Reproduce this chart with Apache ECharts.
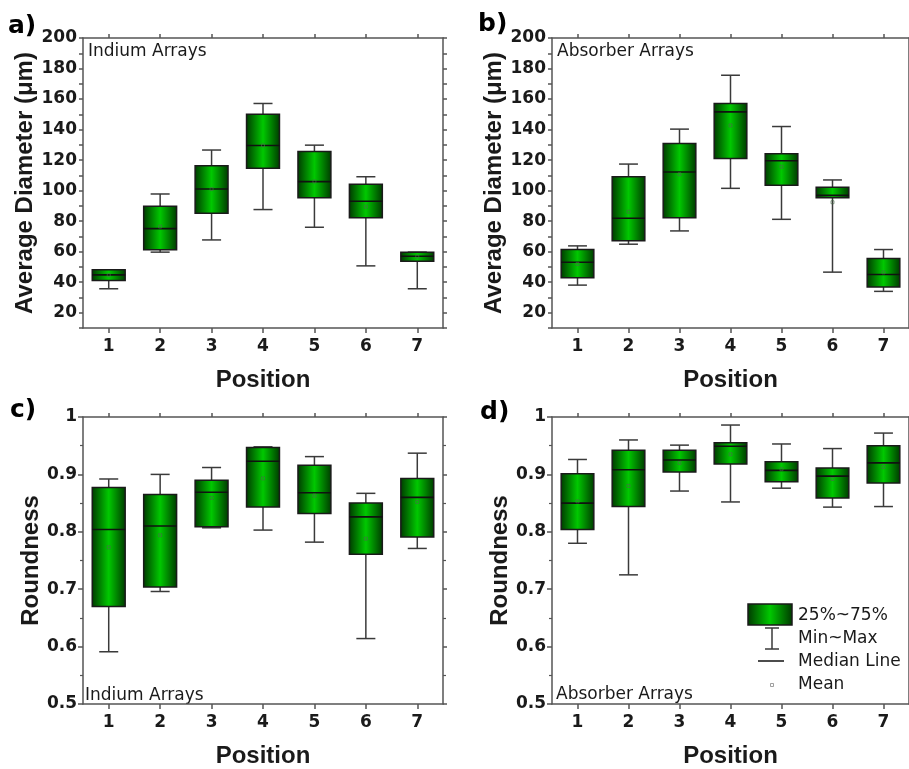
<!DOCTYPE html>
<html><head><meta charset="utf-8">
<script src="https://cdn.jsdelivr.net/npm/echarts@6/dist/echarts.min.js"></script>
<style>html,body{margin:0;padding:0;background:#fff}#c{width:909px;height:769px}</style>
</head><body><div id="c"></div>
<script>
const positions = ['1','2','3','4','5','6','7'];
// each row: [min, Q1, median, Q3, max]
const indiumDiameterBoxes = [
  [35.7, 41.1, 44.8, 48.1, 48.1],
  [59.7, 61.2, 75.1, 89.7, 97.8],
  [67.7, 85.2, 101.1, 116.3, 126.6],
  [87.6, 114.6, 129.6, 150.1, 157.1],
  [76.0, 95.4, 105.9, 125.7, 129.8],
  [50.7, 82.3, 93.0, 104.1, 109.1],
  [35.7, 53.8, 57.0, 59.7, 59.7]
];
const indiumDiameterMeans = [44.6, 76.4, 101.0, 129.6, 106.0, 89.5, 56.8];

const absorberDiameterBoxes = [
  [38.1, 42.9, 53.1, 61.4, 63.8],
  [64.9, 67.1, 81.9, 109.1, 117.4],
  [73.6, 82.3, 112.2, 130.9, 140.3],
  [101.5, 121.1, 151.6, 157.1, 175.6],
  [81.2, 103.5, 119.6, 124.2, 142.0],
  [46.6, 95.4, 96.9, 102.2, 107.0],
  [34.0, 36.8, 45.1, 55.5, 61.4]
];
const absorberDiameterMeans = [52.0, 86.2, 110.7, 142.7, 115.7, 92.4, 46.4];

const indiumRoundnessBoxes = [
  [0.591, 0.670, 0.804, 0.877, 0.892],
  [0.696, 0.704, 0.810, 0.865, 0.900],
  [0.807, 0.809, 0.869, 0.890, 0.912],
  [0.803, 0.843, 0.923, 0.947, 0.948],
  [0.782, 0.832, 0.868, 0.916, 0.931],
  [0.614, 0.761, 0.826, 0.850, 0.867],
  [0.771, 0.791, 0.860, 0.893, 0.937]
];
const indiumRoundnessMeans = [0.773, 0.794, 0.859, 0.893, 0.863, 0.788, 0.852];

const absorberRoundnessBoxes = [
  [0.780, 0.804, 0.850, 0.901, 0.926],
  [0.725, 0.844, 0.908, 0.942, 0.960],
  [0.871, 0.904, 0.925, 0.942, 0.951],
  [0.852, 0.918, 0.949, 0.955, 0.986],
  [0.876, 0.887, 0.907, 0.922, 0.953],
  [0.843, 0.859, 0.897, 0.911, 0.945],
  [0.844, 0.885, 0.920, 0.950, 0.972]
];
const absorberRoundnessMeans = [0.853, 0.880, 0.920, 0.935, 0.909, 0.892, 0.913];

const diameterTicks = ['20','40','60','80','100','120','140','160','180','200'];
const roundnessTicks = ['0.5','0.6','0.7','0.8','0.9','1'];

const FONT = 'DejaVu Sans';
const TITLE_FONT = 'Liberation Sans';
const AXIS_COLOR = '#555';
const TEXT_COLOR = '#1a1a1a';

function greenGrad() {
  return {type:'linear', x:0, y:0, x2:1, y2:0, colorStops:[
    {offset:0, color:'#003800'}, {offset:0.5, color:'#00c800'}, {offset:1, color:'#003800'}]};
}

const grids = [
  {left:83, top:38, width:360, height:290},
  {left:552, top:38, width:360, height:290},
  {left:83, top:417, width:360, height:289},
  {left:552, top:417, width:360, height:289}
];

const xAxes = [], yAxes = [], series = [];

function addPanel(gi, boxes, means, kind, yName, nameGap) {
  const axisLine = {lineStyle:{color:AXIS_COLOR, width:1.5}};
  const tick = {show:true, alignWithLabel:true, length:5, lineStyle:{color:AXIS_COLOR, width:1.5}};
  xAxes.push({
    type:'category', gridIndex:gi, data:positions, position:'bottom',
    axisLine:axisLine, axisTick:tick,
    axisLabel:{fontFamily:FONT, fontWeight:'bold', fontSize:17, color:TEXT_COLOR, margin:10},
    name:'Position', nameLocation:'middle', nameGap:40,
    nameTextStyle:{fontFamily:TITLE_FONT, fontWeight:'bold', fontSize:24, color:TEXT_COLOR}
  });
  xAxes.push({
    type:'category', gridIndex:gi, data:positions, position:'top',
    axisLine:axisLine, axisTick:Object.assign({}, tick, {length:4}), axisLabel:{show:false}
  });
  let yBase;
  if (kind === 'diam') {
    yBase = {type:'value', min:10, max:200, interval:10, splitLine:{show:false}};
  } else {
    yBase = {type:'value', min:0.5, max:1, interval:0.1, splitLine:{show:false},
      minorTick:{show:true, splitNumber:2, length:3, lineStyle:{color:AXIS_COLOR, width:1.2}}};
  }
  const yLabelFmt = kind === 'diam'
    ? (v => diameterTicks.indexOf(String(Math.round(v))) >= 0 ? String(Math.round(v)) : '')
    : (v => { const s = String(Math.round(v*10)/10); return roundnessTicks.indexOf(s) >= 0 ? s : ''; });
  yAxes.push(Object.assign({}, yBase, {
    gridIndex:gi, position:'left',
    axisLine:{show:true, lineStyle:{color:AXIS_COLOR, width:1.5}},
    axisTick:{show:true, length:kind==='diam'?4:5, lineStyle:{color:AXIS_COLOR, width:1.5}},
    axisLabel:{fontFamily:FONT, fontWeight:'bold', fontSize:17, color:TEXT_COLOR, margin:6, formatter:yLabelFmt},
    name:yName, nameLocation:'middle', nameGap:nameGap,
    nameTextStyle:{fontFamily:TITLE_FONT, fontWeight:'bold', fontSize:24, color:TEXT_COLOR}
  }));
  yAxes.push(Object.assign({}, yBase, {
    gridIndex:gi, position:'right',
    axisLine:{show:true, lineStyle:{color:AXIS_COLOR, width:1.5}},
    axisTick:{show:true, length:4, lineStyle:{color:AXIS_COLOR, width:1.5}},
    axisLabel:{show:false}
  }));
  const xi = gi*2, yi = gi*2;
  series.push({
    type:'custom', xAxisIndex:xi, yAxisIndex:yi,
    data: boxes.map((b,i) => [i, b[0], b[1], b[2], b[3], b[4]]),
    encode:{x:0, y:[1,2,3,4,5]},
    renderItem: function(params, api) {
      const x = api.value(0);
      const pMin = api.coord([x, api.value(1)]);
      const pQ1 = api.coord([x, api.value(2)]);
      const pMed = api.coord([x, api.value(3)]);
      const pQ3 = api.coord([x, api.value(4)]);
      const pMax = api.coord([x, api.value(5)]);
      const band = api.size([1, 0])[0];
      const bw = band*0.64, cw = band*0.37;
      const cx = pMed[0];
      const ls = {stroke:'#3a3a3a', lineWidth:1.5};
      return {type:'group', children:[
        {type:'line', shape:{x1:cx, y1:pMax[1], x2:cx, y2:pMin[1]}, style:ls},
        {type:'line', shape:{x1:cx-cw/2, y1:pMax[1], x2:cx+cw/2, y2:pMax[1]}, style:ls},
        {type:'line', shape:{x1:cx-cw/2, y1:pMin[1], x2:cx+cw/2, y2:pMin[1]}, style:ls},
        {type:'rect', shape:{x:cx-bw/2, y:pQ3[1], width:bw, height:pQ1[1]-pQ3[1]},
          style:{fill:greenGrad(), stroke:'#1a1a1a', lineWidth:1.5}},
        {type:'line', shape:{x1:cx-bw/2, y1:pMed[1], x2:cx+bw/2, y2:pMed[1]}, style:{stroke:'#111', lineWidth:1.6}}
      ]};
    },
    z:2
  });
  series.push({
    type:'scatter', xAxisIndex:xi, yAxisIndex:yi,
    data: means.map((m,i) => [i, m]),
    symbol:'rect', symbolSize:3,
    itemStyle:{color:'rgba(0,0,0,0)', borderColor:'#4a6a4a', borderWidth:0.8},
    z:5, silent:true
  });
}

addPanel(0, indiumDiameterBoxes, indiumDiameterMeans, 'diam', 'Average Diameter (μm)', 44);
addPanel(1, absorberDiameterBoxes, absorberDiameterMeans, 'diam', 'Average Diameter (μm)', 45);
addPanel(2, indiumRoundnessBoxes, indiumRoundnessMeans, 'round', 'Roundness', 39);
addPanel(3, absorberRoundnessBoxes, absorberRoundnessMeans, 'round', 'Roundness', 40);

const labelStyle = {fontFamily:FONT, fontWeight:'bold', fontSize:25, fill:'#000'};
const noteStyle = {fontFamily:FONT, fontSize:17, fill:TEXT_COLOR};
const legStyle = {fontFamily:FONT, fontSize:17, fill:TEXT_COLOR, verticalAlign:'middle'};
const wl = {stroke:'#3a3a3a', lineWidth:1.5};

const graphic = [
  {type:'text', left:8, top:14, style:Object.assign({text:'a)'}, labelStyle)},
  {type:'text', left:478, top:12, style:Object.assign({text:'b)'}, labelStyle)},
  {type:'text', left:10, top:398, style:Object.assign({text:'c)'}, labelStyle)},
  {type:'text', left:480, top:400, style:Object.assign({text:'d)'}, labelStyle)},
  {type:'text', x:88, y:52, style:Object.assign({text:'Indium Arrays', verticalAlign:'middle'}, noteStyle)},
  {type:'text', x:557, y:52, style:Object.assign({text:'Absorber Arrays', verticalAlign:'middle'}, noteStyle)},
  {type:'text', x:85, y:696, style:Object.assign({text:'Indium Arrays', verticalAlign:'middle'}, noteStyle)},
  {type:'text', x:556, y:695, style:Object.assign({text:'Absorber Arrays', verticalAlign:'middle'}, noteStyle)},
  // legend
  {type:'rect', shape:{x:748, y:604, width:44, height:21}, style:{fill:greenGrad(), stroke:'#1a1a1a', lineWidth:1.5}, z:10},
  {type:'line', shape:{x1:772, y1:628, x2:772, y2:649}, style:wl, z:10},
  {type:'line', shape:{x1:765, y1:628, x2:779, y2:628}, style:wl, z:10},
  {type:'line', shape:{x1:765, y1:649, x2:779, y2:649}, style:wl, z:10},
  {type:'line', shape:{x1:758, y1:661, x2:784, y2:661}, style:{stroke:'#111', lineWidth:1.5}, z:10},
  {type:'rect', shape:{x:770.5, y:683.5, width:3, height:3}, style:{fill:'none', stroke:'#888', lineWidth:0.8}, z:10},
  {type:'text', x:798, y:616, style:Object.assign({text:'25%~75%'}, legStyle), z:10},
  {type:'text', x:798, y:639, style:Object.assign({text:'Min~Max'}, legStyle), z:10},
  {type:'text', x:798, y:662, style:Object.assign({text:'Median Line'}, legStyle), z:10},
  {type:'text', x:798, y:685, style:Object.assign({text:'Mean'}, legStyle), z:10}
];

const chart = echarts.init(document.getElementById('c'), null, {renderer:'canvas'});
chart.setOption({
  animation:false,
  backgroundColor:'#fff',
  grid:grids,
  xAxis:xAxes,
  yAxis:yAxes,
  series:series,
  graphic:graphic
});
</script>
</body></html>
